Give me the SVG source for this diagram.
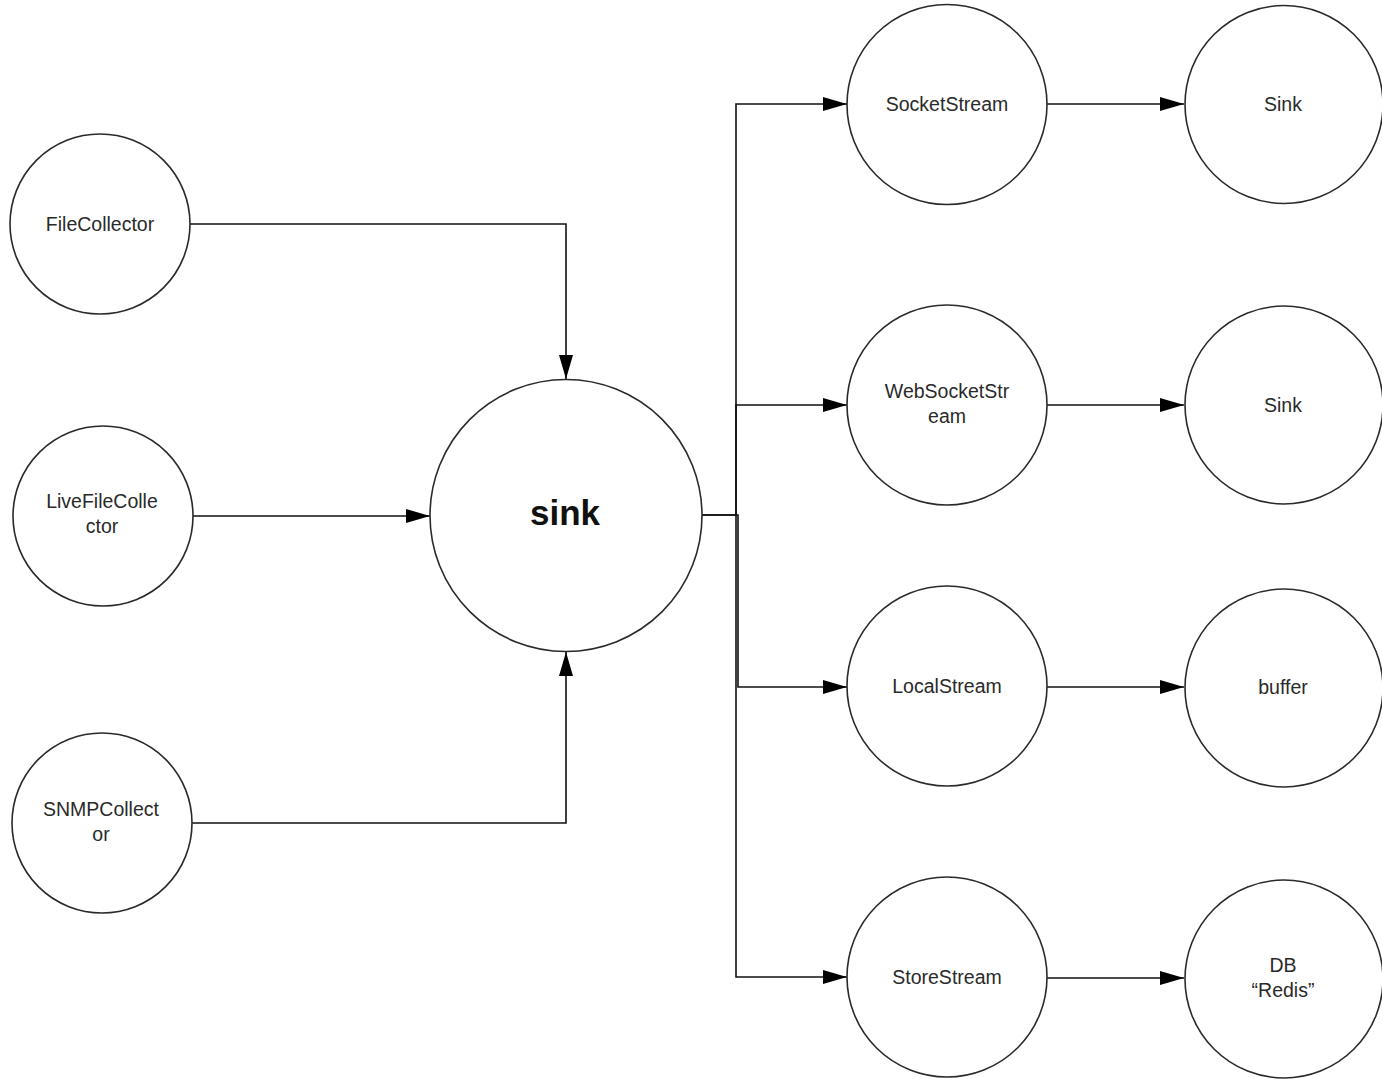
<svg xmlns="http://www.w3.org/2000/svg" width="1382" height="1079" viewBox="0 0 1382 1079">
  <style>
    .node circle { fill: #ffffff; stroke: #2a2a2a; stroke-width: 1.6; }
    .node text { font-family: "Liberation Sans", Arial, sans-serif; font-size: 19.5px; fill: #2a2a2a; text-anchor: middle; }
    .node text.big { font-size: 35px; font-weight: bold; fill: #111111; }
    .edges path { fill: none; stroke: #111111; stroke-width: 1.6; }
  </style>
  <defs>
    <marker id="arrow" markerWidth="24" markerHeight="14" refX="24" refY="7" orient="auto" markerUnits="userSpaceOnUse">
      <path d="M0,0 L24,7 L0,14 Z" fill="#000000"/>
    </marker>
  </defs>
  <rect width="1382" height="1079" fill="#ffffff"/>

  <g class="edges">
    <path d="M190,224 H566 V379" marker-end="url(#arrow)"/>
    <path d="M193,516 H430" marker-end="url(#arrow)"/>
    <path d="M192,823 H566 V652" marker-end="url(#arrow)"/>
    <path d="M702,515 H736 V104 H847" marker-end="url(#arrow)"/>
    <path d="M736,515 V405 H847" marker-end="url(#arrow)"/>
    <path d="M702,515 H738 V687 H847" marker-end="url(#arrow)"/>
    <path d="M736,515 V977 H847" marker-end="url(#arrow)"/>
    <path d="M1047,104 H1184" marker-end="url(#arrow)"/>
    <path d="M1047,405 H1184" marker-end="url(#arrow)"/>
    <path d="M1047,687 H1184" marker-end="url(#arrow)"/>
    <path d="M1047,978 H1184" marker-end="url(#arrow)"/>
  </g>

  <g id="file-collector" class="node">
    <circle cx="100" cy="224" r="90"/>
    <text x="100" y="231">FileCollector</text>
  </g>
  <g id="live-file-collector" class="node">
    <circle cx="103" cy="516" r="90"/>
    <text x="102" y="508">LiveFileColle</text>
    <text x="102" y="533">ctor</text>
  </g>
  <g id="snmp-collector" class="node">
    <circle cx="102" cy="823" r="90"/>
    <text x="101" y="816">SNMPCollect</text>
    <text x="101" y="841">or</text>
  </g>
  <g id="sink" class="node">
    <circle cx="566" cy="515.5" r="136"/>
    <text class="big" x="565" y="525">sink</text>
  </g>
  <g id="socket-stream" class="node">
    <circle cx="947" cy="104.5" r="100"/>
    <text x="947" y="111">SocketStream</text>
  </g>
  <g id="websocket-stream" class="node">
    <circle cx="947" cy="405" r="100"/>
    <text x="947" y="398">WebSocketStr</text>
    <text x="947" y="423">eam</text>
  </g>
  <g id="local-stream" class="node">
    <circle cx="947" cy="686" r="100"/>
    <text x="947" y="693">LocalStream</text>
  </g>
  <g id="store-stream" class="node">
    <circle cx="947" cy="977" r="100"/>
    <text x="947" y="984">StoreStream</text>
  </g>
  <g id="socket-sink" class="node">
    <circle cx="1284" cy="104.5" r="99"/>
    <text x="1283" y="111">Sink</text>
  </g>
  <g id="websocket-sink" class="node">
    <circle cx="1284" cy="405" r="99"/>
    <text x="1283" y="412">Sink</text>
  </g>
  <g id="buffer" class="node">
    <circle cx="1284" cy="688" r="99"/>
    <text x="1283" y="694">buffer</text>
  </g>
  <g id="redis-db" class="node">
    <circle cx="1284" cy="979" r="99"/>
    <text x="1283" y="972">DB</text>
    <text x="1283" y="997">“Redis”</text>
  </g>
</svg>
